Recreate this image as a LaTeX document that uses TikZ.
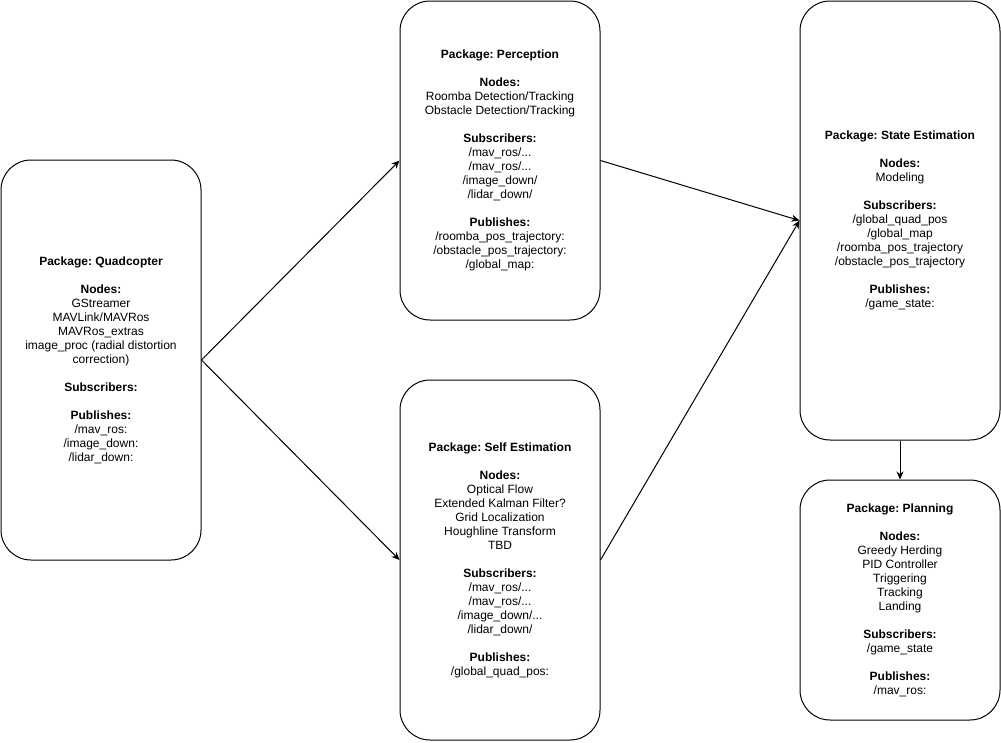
\documentclass[tikz,border=0pt]{standalone}
\usepackage{fontspec}
\setmainfont{Liberation Sans}
\usepackage{tikz}
\usetikzlibrary{arrows.meta}
\frenchspacing

\begin{document}
\begin{tikzpicture}[x=1pt, y=1pt, >={Stealth[length=8pt,width=7pt,inset=2.5pt]}, line width=1pt,
	pkg/.style={draw, rounded corners=30pt, minimum width=200pt, align=center,
		font=\fontsize{12}{14}\selectfont, inner sep=0pt}]
	\useasboundingbox (0,0) rectangle (1001,-742);
	% Packages {quad, perc, self, state, plan}
	\node [pkg, minimum height=400pt] (quad) at (101,-360)
	{\textbf{Package: Quadcopter}\\ \\ \textbf{Nodes:}\\ GStreamer\\ MAVLink/MAVRos\\ MAVRos\_extras\\
	 image\_proc (radial distortion\\ correction)\\ \\ \textbf{Subscribers:}\\ \\
	 \textbf{Publishes:}\\ /mav\_ros:\\ /image\_down:\\ /lidar\_down:};
	\node [pkg, minimum height=319pt] (perc) at (500,-160.5)
	{\textbf{Package: Perception}\\ \\ \textbf{Nodes:}\\ Roomba Detection/Tracking\\ Obstacle Detection/Tracking\\ \\
	 \textbf{Subscribers:}\\ /mav\_ros/...\\ /mav\_ros/...\\ /image\_down/\\ /lidar\_down/\\ \\
	 \textbf{Publishes:}\\ /roomba\_pos\_trajectory:\\ /obstacle\_pos\_trajectory:\\ /global\_map:};
	\node [pkg, minimum height=360pt] (self) at (500,-560)
	{\textbf{Package: Self Estimation}\\ \\ \textbf{Nodes:}\\ Optical Flow\\ Extended Kalman Filter?\\
	 Grid Localization\\ Houghline Transform\\ TBD\\ \\
	 \textbf{Subscribers:}\\ /mav\_ros/...\\ /mav\_ros/...\\ /image\_down/...\\ /lidar\_down/\\ \\
	 \textbf{Publishes:}\\ /global\_quad\_pos:};
	\node [pkg, minimum height=439pt] (state) at (900,-220.5)
	{\textbf{Package: State Estimation}\\ \\ \textbf{Nodes:}\\ Modeling\\ \\
	 \textbf{Subscribers:}\\ /global\_quad\_pos\\ /global\_map\\ /roomba\_pos\_trajectory\\ /obstacle\_pos\_trajectory\\ \\
	 \textbf{Publishes:}\\ /game\_state:};
	\node [pkg, minimum height=240pt] (plan) at (900,-600)
	{\textbf{Package: Planning}\\ \\ \textbf{Nodes:}\\ Greedy Herding\\ PID Controller\\ Triggering\\ Tracking\\ Landing\\ \\
	 \textbf{Subscribers:}\\ /game\_state\\ \\
	 \textbf{Publishes:}\\ /mav\_ros:};

	% Paths
	\draw [->] (quad.east) -- (perc.west);
	\draw [->] (quad.east) -- (self.west);
	\draw [->] (perc.east) -- (state.west);
	\draw [->] (self.east) -- (state.west);
	\draw [->] (state.south) -- (plan.north);
\end{tikzpicture}
\end{document}
